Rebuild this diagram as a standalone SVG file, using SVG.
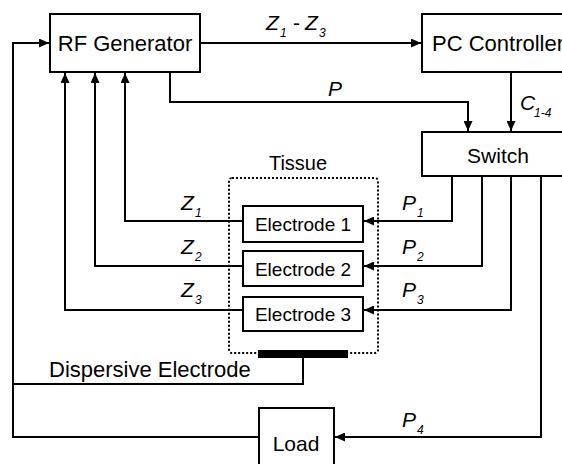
<svg xmlns="http://www.w3.org/2000/svg" width="562" height="464" viewBox="0 0 562 464">
<style>
.box{fill:#fff;stroke:#000;stroke-width:2}
.ln{fill:none;stroke:#000;stroke-width:2}
.t{font-family:"Liberation Sans",Arial,sans-serif;fill:#000}
.i{font-family:"Liberation Sans",Arial,sans-serif;font-style:italic;fill:#000}
</style>
<defs>
<marker id="ah" markerUnits="userSpaceOnUse" markerWidth="11" markerHeight="9" refX="10" refY="4.5" orient="auto">
<path d="M0,0 L10,4.5 L0,9 z" fill="#000"/>
</marker>
</defs>
<rect width="562" height="464" fill="#fff"/>
<g id="connectors">
<path class="ln" d="M303,358 V384 H13 V43 H49" marker-end="url(#ah)"/>
<path class="ln" d="M259,437 H13 V384"/>
<path class="ln" d="M200,43 H421" marker-end="url(#ah)"/>
<path class="ln" d="M170,72 V102 H468 V131" marker-end="url(#ah)"/>
<path class="ln" d="M511,72 V131" marker-end="url(#ah)"/>
<path class="ln" d="M243,221 H125 V73" marker-end="url(#ah)"/>
<path class="ln" d="M243,266 H95 V73" marker-end="url(#ah)"/>
<path class="ln" d="M243,310 H65 V73" marker-end="url(#ah)"/>
<path class="ln" d="M452,176 V221 H364" marker-end="url(#ah)"/>
<path class="ln" d="M482,176 V266 H364" marker-end="url(#ah)"/>
<path class="ln" d="M511,176 V310 H364" marker-end="url(#ah)"/>
<path class="ln" d="M541,176 V437 H335" marker-end="url(#ah)"/>
</g>
<g id="tissue">
<rect x="229" y="178" width="149" height="175" rx="3" fill="none" stroke="#000" stroke-width="2" stroke-dasharray="2,2"/>
<text class="t" x="298" y="170" font-size="20" text-anchor="middle">Tissue</text>
</g>
<g id="rf-generator">
<rect class="box" x="50" y="14" width="150" height="58"/>
<text class="t" x="125" y="51" font-size="22" text-anchor="middle">RF Generator</text>
</g>
<g id="pc-controller">
<rect class="box" x="422" y="14" width="154" height="58"/>
<text class="t" x="432" y="51" font-size="22">PC Controller</text>
</g>
<g id="switch">
<rect class="box" x="422" y="132" width="154" height="44"/>
<text class="t" x="498" y="163" font-size="21" text-anchor="middle">Switch</text>
</g>
<g id="electrode1">
<rect class="box" x="243" y="206" width="120" height="36"/>
<text class="t" x="303" y="231" font-size="19" text-anchor="middle">Electrode 1</text>
</g>
<g id="electrode2">
<rect class="box" x="243" y="251" width="120" height="35"/>
<text class="t" x="303" y="276" font-size="19" text-anchor="middle">Electrode 2</text>
</g>
<g id="electrode3">
<rect class="box" x="243" y="297" width="120" height="34"/>
<text class="t" x="303" y="321" font-size="19" text-anchor="middle">Electrode 3</text>
</g>
<g id="dispersive-electrode">
<rect x="258" y="350" width="90" height="8" fill="#000"/>
<text class="t" x="49" y="377" font-size="22">Dispersive Electrode</text>
</g>
<g id="load">
<rect class="box" x="259" y="408" width="75" height="60"/>
<text class="t" x="296" y="451" font-size="21" text-anchor="middle">Load</text>
</g>
<g id="labels">
<text class="i" x="266" y="30" font-size="21">Z</text><text class="i" x="280" y="37" font-size="12">1</text>
<text class="t" x="293" y="30" font-size="21">-</text>
<text class="i" x="305" y="30" font-size="21">Z</text><text class="i" x="319" y="37" font-size="12">3</text>
<text class="i" x="328" y="96" font-size="21">P</text>
<text class="i" x="520" y="110" font-size="21">C</text><text class="i" x="534" y="117" font-size="12">1-4</text>
<text class="i" x="181" y="210" font-size="21">Z</text><text class="i" x="195" y="217" font-size="12">1</text>
<text class="i" x="181" y="254" font-size="21">Z</text><text class="i" x="195" y="261" font-size="12">2</text>
<text class="i" x="181" y="297" font-size="21">Z</text><text class="i" x="195" y="304" font-size="12">3</text>
<text class="i" x="402" y="210" font-size="21">P</text><text class="i" x="417" y="217" font-size="12">1</text>
<text class="i" x="402" y="254" font-size="21">P</text><text class="i" x="417" y="261" font-size="12">2</text>
<text class="i" x="402" y="297" font-size="21">P</text><text class="i" x="417" y="304" font-size="12">3</text>
<text class="i" x="402" y="427" font-size="21">P</text><text class="i" x="417" y="434" font-size="12">4</text>
</g>
</svg>
